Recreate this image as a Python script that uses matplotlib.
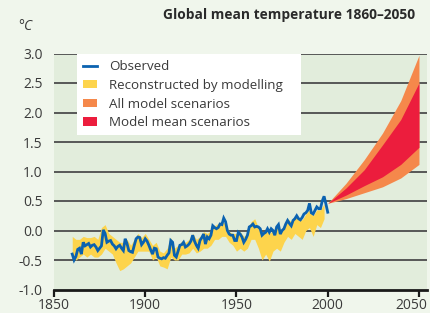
import matplotlib
matplotlib.use("Agg")
import matplotlib.pyplot as plt
from matplotlib.lines import Line2D
from matplotlib.patches import Patch, Rectangle
from matplotlib.transforms import ScaledTranslation

plt.rcParams['font.family'] = ['Open Sans', 'DejaVu Sans']

# Observed global mean temperature anomaly (°C)
obs_years = list(range(1860, 2001))
obs_vals = [
    -0.40, -0.50, -0.44, -0.32, -0.30, -0.40, -0.20, -0.26, -0.24, -0.22,
    -0.28, -0.25, -0.24, -0.28, -0.34, -0.30, -0.26, 0.01, -0.05, -0.20,
    -0.18, -0.17, -0.23, -0.26, -0.31, -0.27, -0.25, -0.30, -0.34, -0.14,
    -0.22, -0.34, -0.36, -0.37, -0.25, -0.14, -0.11, -0.12, -0.24, -0.20,
    -0.14, -0.18, -0.25, -0.33, -0.40, -0.30, -0.31, -0.45, -0.47, -0.48,
    -0.46, -0.47, -0.42, -0.38, -0.17, -0.20, -0.42, -0.45, -0.35, -0.25,
    -0.24, -0.20, -0.28, -0.26, -0.23, -0.18, -0.08, -0.18, -0.25, -0.30,
    -0.17, -0.12, -0.06, -0.23, -0.11, -0.14, -0.08, 0.08, 0.05, 0.03,
    0.05, 0.11, 0.10, 0.21, 0.15, 0.00, -0.06, -0.08, -0.08, -0.17,
    -0.17, -0.03, -0.06, -0.11, -0.20, -0.15, -0.08, 0.06, 0.08, 0.11,
    0.06, 0.07, 0.06, 0.03, -0.08, -0.05, -0.03, 0.03, -0.03, 0.03,
    0.00, -0.08, 0.06, 0.10, -0.06, 0.00, 0.03, 0.11, 0.17, 0.12,
    0.08, 0.17, 0.20, 0.25, 0.20, 0.18, 0.22, 0.28, 0.30, 0.34,
    0.46, 0.30, 0.28, 0.34, 0.40, 0.37, 0.37, 0.50, 0.58, 0.45,
    0.31,
]

# Reconstructed by modelling (range)
rec_years = list(range(1860, 2000, 2))
rec_low = [
    -0.45, -0.50, -0.45, -0.40, -0.45, -0.40, -0.45, -0.45, -0.40, -0.30,
    -0.35, -0.40, -0.55, -0.68, -0.65, -0.60, -0.55, -0.45, -0.35, -0.35,
    -0.35, -0.35, -0.50, -0.45, -0.60, -0.62, -0.65, -0.45, -0.50, -0.50,
    -0.40, -0.40, -0.38, -0.30, -0.38, -0.35, -0.30, -0.30, -0.25, -0.15,
    -0.15, -0.10, -0.10, -0.20, -0.25, -0.35, -0.30, -0.35, -0.30, -0.15,
    -0.15, -0.30, -0.50, -0.40, -0.52, -0.35, -0.30, -0.35, -0.20, -0.10,
    -0.15, -0.05, -0.10, -0.15, 0.00, 0.05, -0.10, 0.10, 0.05, 0.20,
]
rec_high = [
    -0.10, -0.15, -0.15, -0.10, -0.12, -0.12, -0.10, -0.15, 0.05, 0.10,
    -0.05, -0.10, -0.15, -0.20, -0.20, -0.15, -0.25, -0.15, -0.05, -0.12,
    -0.05, -0.15, -0.25, -0.20, -0.35, -0.38, -0.30, -0.12, -0.30, -0.25,
    -0.18, -0.20, -0.15, -0.05, -0.15, -0.10, -0.02, -0.05, 0.00, 0.08,
    0.12, 0.15, 0.12, -0.02, -0.05, -0.05, -0.02, -0.10, -0.05, 0.15,
    0.20, 0.05, -0.05, 0.00, -0.05, 0.00, 0.05, -0.02, 0.10, 0.20,
    0.15, 0.22, 0.20, 0.18, 0.28, 0.35, 0.25, 0.35, 0.35, 0.45,
]

# Projections 2000-2050
proj_years = [2000, 2010, 2020, 2030, 2040, 2050]
all_low = [0.46, 0.54, 0.64, 0.74, 0.89, 1.12]
all_high = [0.46, 0.80, 1.20, 1.65, 2.20, 2.97]
mean_low = [0.46, 0.60, 0.76, 0.91, 1.12, 1.41]
mean_high = [0.46, 0.72, 1.03, 1.45, 1.88, 2.50]

x_ticks = [1850, 1900, 1950, 2000, 2050]
y_ticks = [-1.0, -0.5, 0.0, 0.5, 1.0, 1.5, 2.0, 2.5, 3.0]

c_blue = '#0b62b0'
c_yellow = '#fdd44c'
c_orange = '#f5884b'
c_red = '#ec1d3d'
fig_bg = '#f0f6ec'
ax_bg = '#e2eddc'
txt = '#3a3a3a'

fig = plt.figure(figsize=(4.31, 3.13), dpi=100, facecolor=fig_bg)
ax = fig.add_axes([54/431, 1 - 289.5/313, 373/431, (289.5 - 53.5)/313])
ax.set_facecolor(ax_bg)

ax.set_xlim(1850, 2054.4)
ax.set_ylim(-1.0, 3.0)

for yv in y_ticks[1:]:
    ax.axhline(yv, color='#4c4c4c', lw=1.3, zorder=1)

ax.fill_between(rec_years, rec_low, rec_high, color=c_yellow, lw=0, zorder=2)
ax.fill_between(proj_years, all_low, all_high, color=c_orange, lw=0, zorder=2)
ax.fill_between(proj_years, mean_low, mean_high, color=c_red, lw=0, zorder=3)
ax.plot(obs_years, obs_vals, color=c_blue, lw=2.0, zorder=4, solid_joinstyle='miter')

for s in ['top', 'right', 'left']:
    ax.spines[s].set_visible(False)
ax.spines['bottom'].set_color('#1a1a1a')
ax.spines['bottom'].set_linewidth(2.0)
ax.spines['bottom'].set_zorder(5)

ax.set_xticks(x_ticks)
ax.set_xticklabels([str(v) for v in x_ticks])
ax.set_yticks(y_ticks)
ax.set_yticklabels([f'{v:.1f}' for v in y_ticks])
ax.tick_params(axis='x', direction='out', length=5, width=1.6, color='#1a1a1a',
               labelsize=10, labelcolor=txt, pad=1)
ax.tick_params(axis='y', length=0, labelsize=10, labelcolor=txt, pad=8)
last = ax.get_xticklabels()[-1]
last.set_transform(last.get_transform() + ScaledTranslation(-8/100, 0, fig.dpi_scale_trans))

# Legend box
fig.patches.append(Rectangle((77/431, 1 - 135/313), (301 - 77)/431, (135 - 54)/313,
                             transform=fig.transFigure, facecolor='white',
                             edgecolor='none', zorder=6))
handles = [
    Line2D([], [], color=c_blue, lw=2),
    Patch(facecolor=c_yellow, edgecolor='none'),
    Patch(facecolor=c_orange, edgecolor='none'),
    Patch(facecolor=c_red, edgecolor='none'),
]
labels = ['Observed', 'Reconstructed by modelling', 'All model scenarios',
          'Model mean scenarios']
leg = fig.legend(handles, labels, loc='upper left',
                 bbox_to_anchor=(74/431, 1 - 51.5/313), frameon=False,
                 fontsize=9.6, labelcolor=txt, handlelength=1.05,
                 handleheight=0.6, handletextpad=0.95, labelspacing=0.43,
                 borderpad=0.15)
leg.set_zorder(7)

fig.text(415/431, 1 - 15.5/313, 'Global mean temperature 1860\u20132050',
         ha='right', va='center', fontsize=9.9, fontweight='bold', color='#2a2a2a')
fig.text(25/431, 1 - 27/313, '°C', ha='center', va='center', fontsize=10,
         style='italic', color=txt)

fig.savefig('out.png', dpi=100, facecolor=fig_bg)
